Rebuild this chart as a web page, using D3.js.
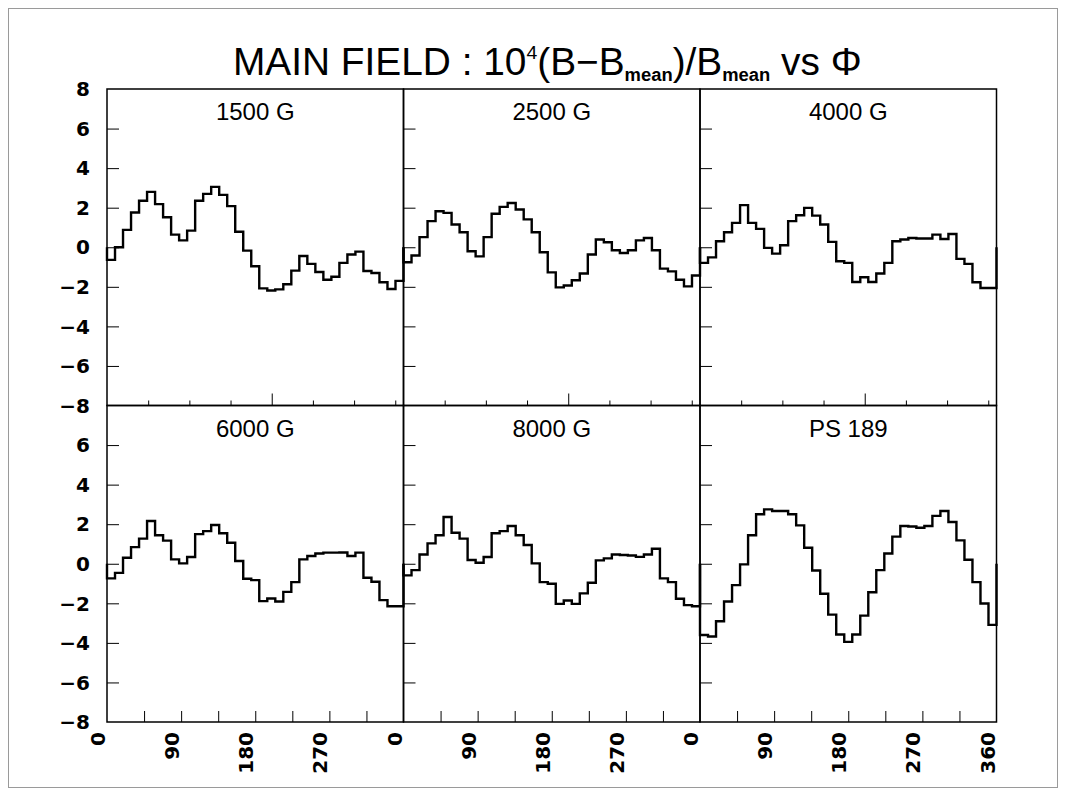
<!DOCTYPE html>
<html><head><meta charset="utf-8">
<script src="https://cdn.jsdelivr.net/npm/d3@7"></script>
<style>body{margin:0;background:#fff}</style>
</head><body>
<svg id="c" width="1065" height="796"></svg>
<script>
// ---------------- data ----------------
const panelNames = ["1500 G", "2500 G", "4000 G", "6000 G", "8000 G", "PS 189"];
const v1500 = [-0.64,0.00,0.88,1.76,2.35,2.80,2.18,1.52,0.64,0.35,0.84,2.35,2.70,3.05,2.65,2.08,0.78,-0.17,-0.96,-2.08,-2.19,-2.13,-1.87,-1.18,-0.44,-0.84,-1.25,-1.64,-1.49,-0.79,-0.37,-0.22,-1.20,-1.30,-1.77,-2.11,-1.70];
const v2500 = [-0.76,-0.42,0.51,1.32,1.82,1.74,1.15,0.76,-0.20,-0.46,0.51,1.69,2.04,2.24,1.91,1.41,0.76,-0.25,-1.27,-2.03,-1.93,-1.67,-1.33,-0.37,0.39,0.25,-0.15,-0.29,-0.15,0.35,0.47,-0.15,-1.08,-1.22,-1.64,-1.98,-1.43];
const v4000 = [-0.79,-0.51,0.30,0.76,1.23,2.13,1.23,0.93,-0.03,-0.32,0.10,1.32,1.62,1.99,1.60,1.15,0.27,-0.71,-0.79,-1.76,-1.52,-1.76,-1.33,-0.79,0.30,0.39,0.47,0.44,0.44,0.64,0.42,0.67,-0.59,-0.84,-1.77,-2.06,-2.06];
const v6000 = [-0.74,-0.46,0.30,0.84,1.27,2.16,1.44,1.17,0.22,0.02,0.34,1.50,1.65,1.96,1.54,1.06,0.14,-0.76,-0.83,-1.89,-1.76,-1.91,-1.42,-0.93,0.22,0.39,0.52,0.56,0.56,0.57,0.39,0.56,-0.71,-0.91,-1.84,-2.15,-2.15];
const v8000 = [-0.59,-0.32,0.47,1.03,1.44,2.36,1.57,1.27,0.19,0.05,0.34,1.54,1.65,1.91,1.44,0.95,0.02,-0.93,-1.01,-2.03,-1.86,-2.03,-1.50,-0.96,0.17,0.27,0.47,0.44,0.42,0.35,0.47,0.76,-0.74,-0.93,-1.77,-2.09,-2.15];
const vPS189 = [-3.60,-3.68,-2.91,-1.91,-1.08,-0.03,1.44,2.50,2.75,2.67,2.67,2.50,1.94,0.81,-0.34,-1.52,-2.57,-3.58,-3.95,-3.58,-2.62,-1.44,-0.32,0.52,1.37,1.91,1.88,1.82,1.91,2.42,2.67,2.11,1.18,0.20,-0.93,-2.01,-3.09];
const series = [v1500, v2500, v4000, v6000, v8000, vPS189];
const phiRange = [0, 360];
const yRange = [-8, 8];
const yTickValues = [-6, -4, -2, 0, 2, 4, 6];
const yLabelValues = [8, 6, 4, 2, 0, -2, -4, -6, -8];
const xTicksTopRow = [50, 100, 150, 250, 300, 350];
const xMajorTopRow = [200];
const xTicksBottomRow = [45, 90, 135, 180, 225, 270, 315];
const xLabelValues = [0, 90, 180, 270];
const xLabelLast = [360];

// ---------------- layout ----------------
const svg = d3.select("#c");
const L = 107, R = 996.5, T = 89, B = 722;
const pw = (R - L) / 3, ph = (B - T) / 2;
const tickFont = "DejaVu Sans, Verdana, sans-serif";

svg.append("rect").attr("x", 8.5).attr("y", 8.5).attr("width", 1049).attr("height", 779)
  .attr("fill", "none").attr("stroke", "#9a9a9a").attr("stroke-width", 1);

series.forEach((vals, i) => {
  const col = i % 3, row = Math.floor(i / 3);
  const x0 = L + col * pw, y0 = T + row * ph;
  const x = d3.scaleLinear().domain(phiRange).range([x0, x0 + pw]);
  const y = d3.scaleLinear().domain(yRange).range([y0 + ph, y0]);
  const g = svg.append("g");

  // y ticks (inward)
  g.append("g").attr("transform", `translate(${x0},0)`)
    .call(d3.axisLeft(y).tickValues(yTickValues).tickSize(-12).tickFormat(""))
    .call(s => s.select(".domain").remove())
    .selectAll("line").attr("stroke", "#000").attr("stroke-width", 1);

  // x ticks
  if (row === 0) {
    g.append("g").attr("transform", `translate(0,${y0 + ph})`)
      .call(d3.axisTop(x).tickValues(xTicksTopRow).tickSize(5).tickFormat(""))
      .call(s => s.select(".domain").remove())
      .selectAll("line").attr("stroke", "#000").attr("stroke-width", 1);
    g.append("g").attr("transform", `translate(0,${y0 + ph})`)
      .call(d3.axisTop(x).tickValues(xMajorTopRow).tickSize(12).tickFormat(""))
      .call(s => s.select(".domain").remove())
      .selectAll("line").attr("stroke", "#000").attr("stroke-width", 1);
  } else {
    g.append("g").attr("transform", `translate(0,${y0 + ph})`)
      .call(d3.axisTop(x).tickValues(xTicksBottomRow).tickSize(11).tickFormat(""))
      .call(s => s.select(".domain").remove())
      .selectAll("line").attr("stroke", "#000").attr("stroke-width", 1);
    const labs = col === 2 ? xLabelValues.concat(xLabelLast) : xLabelValues;
    g.selectAll("text.xl").data(labs).join("text").attr("class", "xl")
      .attr("transform", d => `translate(${x(d) - 2},${B + 10}) rotate(-90)`)
      .attr("text-anchor", "end")
      .attr("font-family", tickFont).attr("font-weight", "bold").attr("font-size", 20)
      .text(d => d);
  }

  // y labels on left column
  if (col === 0) {
    const labs = row === 0 ? yLabelValues : yLabelValues.slice(1);
    g.selectAll("text.yl").data(labs).join("text").attr("class", "yl")
      .attr("x", L - 17).attr("y", d => y(d)).attr("dy", "0.36em")
      .attr("text-anchor", "end")
      .attr("font-family", tickFont).attr("font-weight", "bold").attr("font-size", 20)
      .text(d => (d < 0 ? "\u2212" + Math.abs(d) : d));
  }

  // histogram outline
  const n = vals.length;
  const w = (phiRange[1] - phiRange[0]) / n;
  const pts = [[phiRange[0], 0]];
  vals.forEach((v, k) => { pts.push([phiRange[0] + k * w, v], [phiRange[0] + (k + 1) * w, v]); });
  pts.push([phiRange[1], 0]);
  g.append("path").attr("d", d3.line().x(d => x(d[0])).y(d => y(d[1]))(pts))
    .attr("fill", "none").attr("stroke", "#000").attr("stroke-width", 2.4)
    .attr("stroke-linejoin", "miter");

  // panel frame
  g.append("rect").attr("x", x0).attr("y", y0).attr("width", pw).attr("height", ph)
    .attr("fill", "none").attr("stroke", "#000").attr("stroke-width", 1.5);

  // panel name
  g.append("text").attr("x", x0 + pw / 2).attr("y", y0 + 31)
    .attr("text-anchor", "middle").attr("font-family", "Liberation Sans, Arial, sans-serif")
    .attr("font-size", 24).text(panelNames[i]);
});

// ---------------- title ----------------
const title = svg.append("text").attr("font-family", "Liberation Sans, Arial, sans-serif")
  .attr("font-size", 38).attr("x", 0).attr("y", 75).attr("fill", "#000");
title.append("tspan").text("MAIN FIELD : 10");
title.append("tspan").attr("font-size", 19).attr("dy", -16).text("4");
title.append("tspan").attr("dy", 16).text("(B\u2212B");
title.append("tspan").attr("font-size", 18).attr("font-weight", "bold").attr("dy", 6).text("mean");
title.append("tspan").attr("dy", -6).text(")/B");
title.append("tspan").attr("font-size", 18).attr("font-weight", "bold").attr("dy", 6).text("mean");
title.append("tspan").attr("dy", -6).text(" vs \u03A6");
const tw = title.node().getBBox().width;
const sx = (862 - 233) / tw;
title.attr("transform", `translate(233,0) scale(${sx},1)`);
</script>
</body></html>
